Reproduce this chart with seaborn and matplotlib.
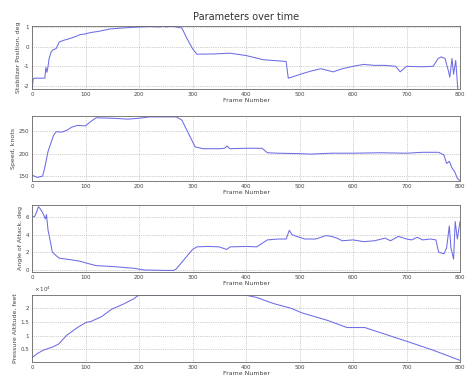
import matplotlib
matplotlib.use('Agg')
import matplotlib.pyplot as plt
import seaborn as sns
from matplotlib.ticker import FormatStrFormatter

# Stabilizer position (deg) vs frame
stab_frame = [0, 2, 5, 24, 26, 28, 30, 32, 36, 40, 45, 51, 60, 68, 80, 90, 100, 110, 125,
              146, 170, 200, 220, 240, 245, 250, 260, 270, 280, 290, 300, 308, 340, 370,
              400, 432, 450, 475, 479, 485, 504, 520, 540, 563, 580, 600, 620, 640, 660,
              680, 688, 700, 730, 750, 759, 765, 772, 778, 781, 785, 788, 792, 796, 800]
stab_deg = [-2.3, -1.65, -1.6, -1.6, -1.05, -1.3, -1.0, -0.6, -0.25, -0.15, -0.1, 0.24, 0.33,
            0.39, 0.5, 0.61, 0.65, 0.72, 0.78, 0.9, 0.95, 1.0, 1.02, 1.0, 1.06, 1.0, 1.04,
            1.0, 0.95, 0.4, -0.1, -0.38, -0.37, -0.33, -0.45, -0.66, -0.7, -0.75, -1.6,
            -1.55, -1.38, -1.25, -1.12, -1.28, -1.12, -1.0, -0.9, -0.95, -0.95, -1.0, -1.28,
            -1.0, -1.02, -1.0, -0.6, -0.52, -0.6, -1.2, -1.55, -0.6, -1.4, -0.7, -2.2, -2.2]

# Speed (knots) vs frame
speed_frame = [0, 10, 20, 25, 30, 40, 45, 55, 65, 74, 85, 100, 110, 120, 150, 180, 200, 220,
               270, 280, 305, 320, 350, 360, 364, 370, 400, 430, 440, 460, 500, 520, 560,
               600, 650, 700, 730, 760, 770, 775, 780, 785, 790, 795, 800]
speed_kt = [152, 147, 150, 175, 205, 240, 249, 248, 252, 259, 263, 262, 272, 280, 279, 277,
            279, 282, 282, 275, 215, 211, 211, 212, 217, 211, 212, 212, 202, 201, 200, 199,
            201, 201, 202, 201, 203, 203, 197, 178, 183, 168, 160, 145, 140]

# Angle of attack (deg) vs frame
aoa_frame = [0, 5, 8, 12, 15, 20, 25, 27, 30, 35, 38, 45, 51, 70, 90, 101, 120, 150, 170, 190,
             200, 210, 250, 265, 270, 285, 300, 308, 330, 350, 364, 370, 400, 420, 430, 440,
             460, 475, 481, 486, 495, 510, 530, 550, 560, 570, 580, 600, 620, 640, 660, 670,
             685, 700, 710, 720, 730, 745, 755, 760, 770, 775, 780, 783, 788, 791, 795, 800]
aoa_deg = [6.0, 6.1, 6.5, 7.2, 7.0, 6.5, 5.8, 6.3, 4.5, 3.0, 2.0, 1.6, 1.3, 1.15, 0.95, 0.75,
           0.45, 0.35, 0.25, 0.15, 0.05, -0.05, -0.1, -0.1, 0.1, 1.2, 2.3, 2.6, 2.65, 2.6,
           2.3, 2.6, 2.65, 2.6, 3.0, 3.4, 3.5, 3.5, 4.5, 4.0, 3.8, 3.5, 3.5, 3.9, 3.8, 3.6,
           3.3, 3.4, 3.2, 3.3, 3.6, 3.3, 3.8, 3.5, 3.4, 3.7, 3.4, 3.5, 3.4, 2.0, 1.8, 2.5,
           5.0, 2.5, 1.2, 5.5, 3.5, 5.5]

# Pressure altitude (feet) vs frame
alt_frame = [0, 10, 21, 40, 50, 65, 85, 101, 110, 130, 149, 170, 190, 200, 300, 398, 420, 451,
             485, 504, 551, 589, 600, 622, 650, 700, 750, 800]
alt_ft = [2000, 3500, 4700, 6000, 7000, 10200, 13000, 14900, 15200, 17000, 19700, 21500,
          23500, 24900, 24900, 24900, 24000, 21800, 20000, 18400, 15700, 13000, 13000,
          13000, 11200, 8000, 4700, 1000]

frame_ticks = [0, 100, 200, 300, 400, 500, 600, 700, 800]

sns.set_style('white')
plt.rcParams['font.family'] = ['DejaVu Sans']

W, H = 465, 376
fig = plt.figure(figsize=(W / 100, H / 100), dpi=100)

line_color = '#6c6ce6'

panels = [
    (stab_frame, stab_deg, 'Stabilizer Position, deg', (26, 89), (-2.15, 1.05), [-2, -1, 0, 1]),
    (speed_frame, speed_kt, 'Speed, knots', (116, 181), (139, 284), [150, 200, 250]),
    (aoa_frame, aoa_deg, 'Angle of Attack, deg', (205, 272), (-0.28, 7.4), [0, 2, 4, 6]),
    (alt_frame, [a / 1e4 for a in alt_ft], 'Pressure Altitude, feet', (295, 362), (0.04, 2.49),
     [0.5, 1, 1.5, 2]),
]

for i, (xs, ys, ylab, (top, bottom), ylim, yticks) in enumerate(panels):
    ax = fig.add_axes([32 / W, 1 - bottom / H, (460 - 32) / W, (bottom - top) / H])
    sns.lineplot(x=xs, y=ys, ax=ax, color=line_color, linewidth=0.75)
    ax.set_xlim(0, 800)
    ax.set_ylim(*ylim)
    ax.set_xticks(frame_ticks)
    ax.set_yticks(yticks)
    ax.yaxis.set_major_formatter(FormatStrFormatter('%g'))
    ax.grid(True, linestyle=':', color='#a0a0a0', linewidth=0.5)
    ax.tick_params(direction='in', length=2, width=0.5, labelsize=4, colors='#444444', pad=2)
    for s in ax.spines.values():
        s.set_linewidth(0.6)
        s.set_color('#666666')
    ax.set_xlabel('Frame Number', fontsize=4.5, labelpad=1, color='#444444')
    ax.set_ylabel(ylab, fontsize=4.5, labelpad=2, color='#444444')
    if i == 0:
        ax.set_title('Parameters over time', fontsize=7, color='#333333', pad=4)
    if i == 3:
        ax.text(0.005, 1.01, r'$\times\,10^4$', transform=ax.transAxes, fontsize=4,
                ha='left', va='bottom', color='#444444')

fig.savefig('out.png', dpi=100)
